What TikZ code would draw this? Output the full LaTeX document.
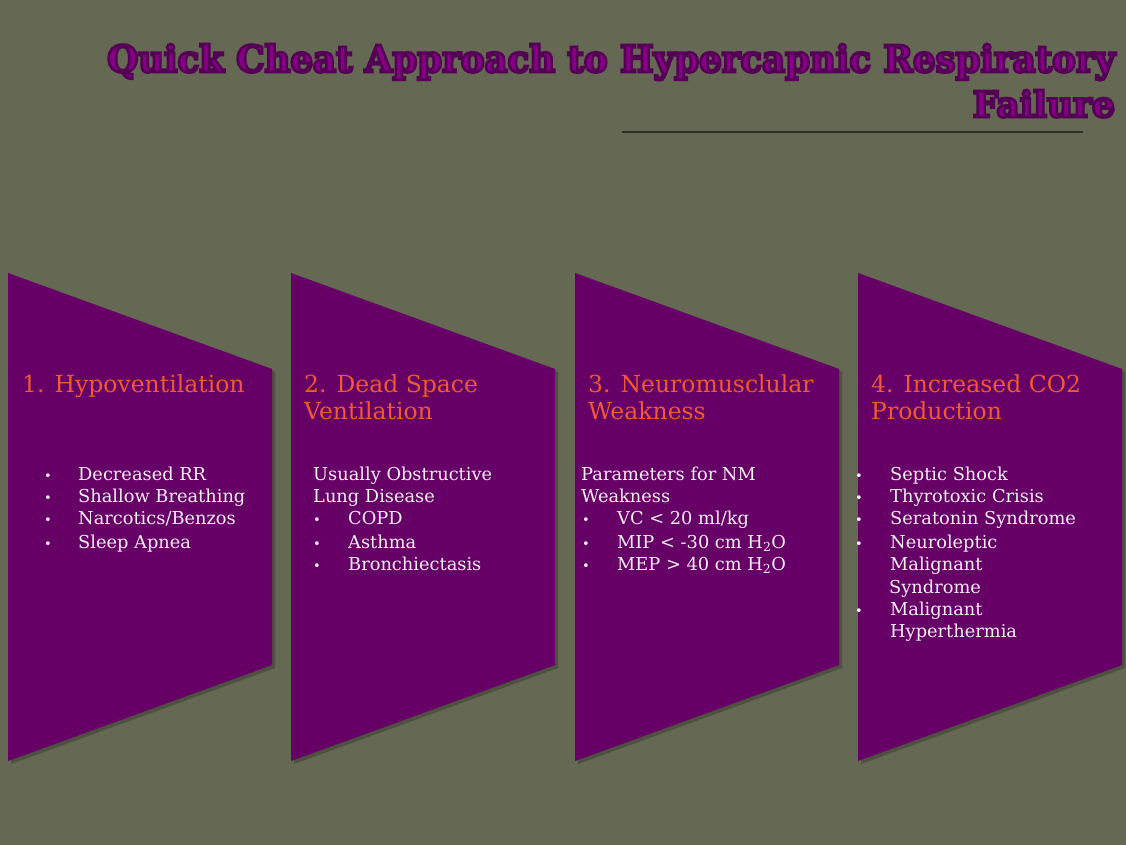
\documentclass[tikz,border=0pt]{standalone}
\usepackage{fontspec}
\setmainfont{DejaVu Serif}
\newfontfamily\titlefont{DejaVu Serif}
\definecolor{bgcol}{HTML}{656852}
\definecolor{boxpurple}{HTML}{660066}
\definecolor{headorange}{HTML}{EE5A32}
\definecolor{titlepurple}{HTML}{870087}
\definecolor{bodywhite}{HTML}{F6EEF6}
\newcommand\outlinedtitle[3]{\resizebox{#1}{#2}{\special{pdf:code q 2 Tr 0.75 w 0.33 0.0 0.33 RG}\titlefont\bfseries #3\special{pdf:code Q}}}
\begin{document}
\begin{tikzpicture}[x=1pt,y=-1pt,
  chevron/.style={fill=boxpurple},
  chevshadow/.style={fill=black,opacity=0.22},
  head/.style={anchor=base west,inner sep=0pt,text=headorange,font=\fontsize{23.5}{28}\selectfont},
  body/.style={anchor=base west,inner sep=0pt,text=bodywhite,font=\fontsize{17.8}{21}\selectfont},
  bul/.style={anchor=base west,inner sep=0pt,text=bodywhite,font=\fontsize{13}{16}\selectfont},
  titletext/.style={anchor=base west,inner sep=0pt,text=titlepurple}
]
\useasboundingbox (0,0) rectangle (1126,845);
\fill[bgcol] (0,0) rectangle (1126,845);

% title
\node[titletext] (t1) at (107,72) {\outlinedtitle{1008pt}{28pt}{Quick Cheat Approach to Hypercapnic Respiratory}};
\node[titletext,anchor=base east] (t2) at (1115,117) {\outlinedtitle{142pt}{27pt}{Failure}};
\coordinate (ruleA) at (622,132);
\coordinate (ruleB) at (1083,132);
\draw[line width=1.2pt,color=black!55!bgcol] (ruleA) -- (ruleB);

% chevrons
\foreach \x in {8,291,575,858}{
  \fill[chevshadow] (\x+3,276) -- (\x+267,372) -- (\x+267,668) -- (\x+3,764) -- cycle;
  \fill[chevron] (\x,273) -- (\x+264,369) -- (\x+264,665) -- (\x,761) -- cycle;
}

% column 1
\node[head] (h1) at (22,392) {1. Hypoventilation};
\node[bul] (b1a) at (44,480) {\textbullet};
\node[body] (c1a) at (78,480) {Decreased RR};
\node[bul] (b1b) at (44,502) {\textbullet};
\node[body] (c1b) at (78,502) {Shallow Breathing};
\node[bul] (b1c) at (44,524) {\textbullet};
\node[body] (c1c) at (78,524) {Narcotics/Benzos};
\node[bul] (b1d) at (44,548) {\textbullet};
\node[body] (c1d) at (78,548) {Sleep Apnea};

% column 2
\node[head] (h2a) at (304,392) {2. Dead Space};
\node[head] (h2b) at (304,419) {Ventilation};
\node[body] (c2a) at (313,480) {Usually Obstructive};
\node[body] (c2b) at (313,502) {Lung Disease};
\node[bul] (b2a) at (313,524) {\textbullet};
\node[body] (c2c) at (348,524) {COPD};
\node[bul] (b2b) at (313,548) {\textbullet};
\node[body] (c2d) at (348,548) {Asthma};
\node[bul] (b2c) at (313,570) {\textbullet};
\node[body] (c2e) at (348,570) {Bronchiectasis};

% column 3
\node[head] (h3a) at (588,392) {3. Neuromusclular};
\node[head] (h3b) at (588,419) {Weakness};
\node[body] (c3a) at (581,480) {Parameters for NM};
\node[body] (c3b) at (581,502) {Weakness};
\node[bul] (b3a) at (582,524) {\textbullet};
\node[body] (c3c) at (617,524) {VC < 20 ml/kg};
\node[bul] (b3b) at (582,548) {\textbullet};
\node[body] (c3d) at (617,548) {MIP < -30 cm H\textsubscript{2}O};
\node[bul] (b3c) at (582,570) {\textbullet};
\node[body] (c3e) at (617,570) {MEP > 40 cm H\textsubscript{2}O};

% column 4
\node[head] (h4a) at (871,392) {4. Increased CO2};
\node[head] (h4b) at (871,419) {Production};
\node[bul] (b4a) at (855,480) {\textbullet};
\node[body] (c4a) at (890,480) {Septic Shock};
\node[bul] (b4b) at (855,502) {\textbullet};
\node[body] (c4b) at (890,502) {Thyrotoxic Crisis};
\node[bul] (b4c) at (855,524) {\textbullet};
\node[body] (c4c) at (890,524) {Seratonin Syndrome};
\node[bul] (b4d) at (855,548) {\textbullet};
\node[body] (c4d) at (890,548) {Neuroleptic};
\node[body] (c4e) at (890,570) {Malignant};
\node[body] (c4f) at (889,593) {Syndrome};
\node[bul] (b4e) at (855,615) {\textbullet};
\node[body] (c4g) at (890,615) {Malignant};
\node[body] (c4h) at (890,637) {Hyperthermia};
\end{tikzpicture}
\end{document}
